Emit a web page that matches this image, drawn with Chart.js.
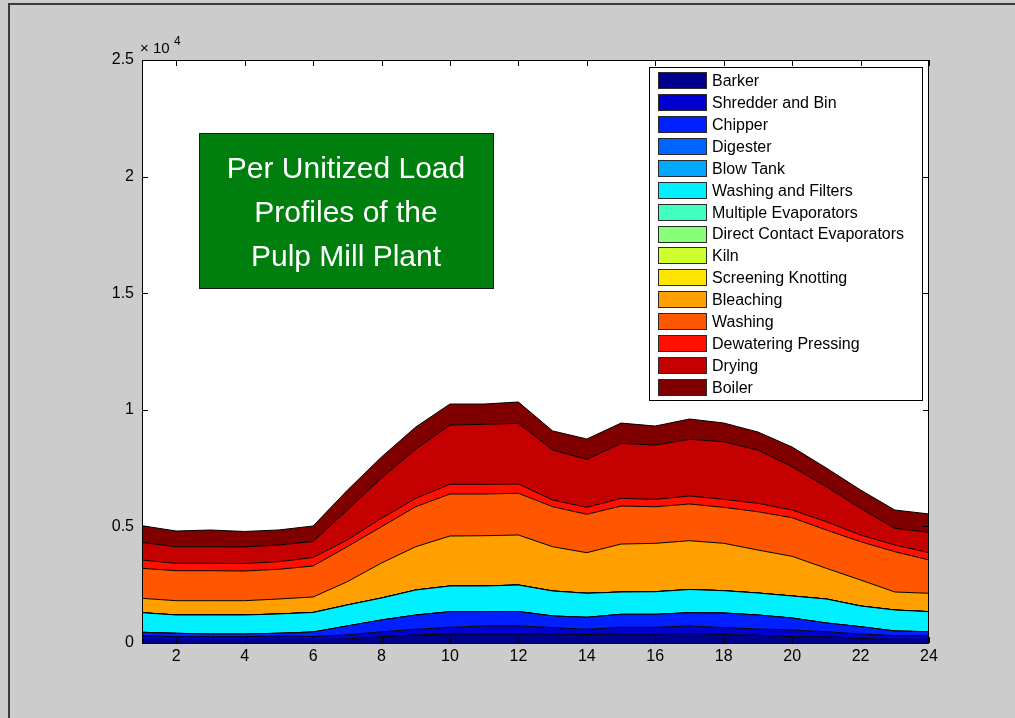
<!DOCTYPE html>
<html>
<head>
<meta charset="utf-8">
<script src="https://cdn.jsdelivr.net/npm/chart.js@4.4.1/dist/chart.umd.min.js"></script>
<style>
  html, body { margin: 0; padding: 0; background: #cccccc; }
  #wrap { width: 1015px; height: 718px; position: relative; }
  canvas { display: block; }
</style>
</head>
<body>
<div id="wrap"><canvas id="chart" width="1015" height="718"></canvas></div>
<script>
// Hour of day (x axis)
const hours = [1, 2, 3, 4, 5, 6, 7, 8, 9, 10, 11, 12, 13, 14, 15, 16, 17, 18, 19, 20, 21, 22, 23, 24];
const xTickLabels = [2, 4, 6, 8, 10, 12, 14, 16, 18, 20, 22, 24];
const yTickValues = [0, 5000, 10000, 15000, 20000, 25000];
const yTickLabels = ['0', '0.5', '1', '1.5', '2', '2.5'];

// Load of each process area per hour (stacked from the bottom up)
const barker       = [150, 150, 150, 150, 159, 150, 172, 270, 343, 386, 386, 386, 386, 364, 386, 386, 416, 364, 330, 270, 270, 193, 159, 159];
const shredderBin  = [163, 120, 120, 120, 142, 129, 172, 214, 244, 287, 343, 343, 279, 223, 287, 287, 313, 300, 270, 287, 214, 193, 154, 154];
const chipper      = [146, 146, 116, 116, 116, 193, 386, 502, 613, 669, 613, 622, 493, 515, 557, 557, 570, 622, 600, 515, 373, 313, 202, 172];
const digester     = [0, 0, 0, 0, 0, 0, 0, 0, 0, 0, 0, 0, 0, 0, 0, 0, 0, 0, 0, 0, 0, 0, 0, 0];
const blowTank     = [0, 0, 0, 0, 0, 0, 0, 0, 0, 0, 0, 0, 0, 0, 0, 0, 0, 0, 0, 0, 0, 0, 0, 0];
const washFilters  = [840, 785, 815, 815, 828, 836, 900, 943, 1072, 1102, 1102, 1136, 1072, 1029, 956, 969, 995, 956, 943, 943, 1029, 888, 900, 858];
const multiEvap    = [0, 0, 0, 0, 0, 0, 0, 0, 0, 0, 0, 0, 0, 0, 0, 0, 0, 0, 0, 0, 0, 0, 0, 0];
const directEvap   = [0, 0, 0, 0, 0, 0, 0, 0, 0, 0, 0, 0, 0, 0, 0, 0, 0, 0, 0, 0, 0, 0, 0, 0];
const kiln         = [0, 0, 0, 0, 0, 0, 0, 0, 0, 0, 0, 0, 0, 0, 0, 0, 0, 0, 0, 0, 0, 0, 0, 0];
const screening    = [0, 0, 0, 0, 0, 0, 0, 0, 0, 0, 0, 0, 0, 0, 0, 0, 0, 0, 0, 0, 0, 0, 0, 0];
const bleaching    = [617, 613, 613, 613, 643, 665, 999, 1501, 1857, 2144, 2157, 2144, 1900, 1741, 2058, 2075, 2093, 2033, 1844, 1702, 1316, 1115, 772, 789];
const washing      = [1286, 1286, 1286, 1274, 1274, 1329, 1501, 1557, 1715, 1801, 1788, 1788, 1715, 1647, 1629, 1569, 1574, 1544, 1642, 1655, 1642, 1642, 1728, 1428];
const dewatering   = [356, 317, 317, 322, 326, 364, 287, 360, 360, 416, 416, 399, 287, 300, 330, 317, 343, 343, 360, 330, 356, 287, 287, 313];
const drying       = [759, 712, 712, 708, 716, 686, 1283, 1729, 2107, 2543, 2573, 2603, 2144, 2058, 2358, 2328, 2431, 2470, 2286, 1857, 1501, 1145, 716, 875];
const boiler       = [712, 673, 716, 665, 643, 665, 850, 900, 950, 900, 870, 913, 820, 870, 870, 815, 870, 802, 772, 845, 802, 785, 785, 785];

const seriesNames = [
  'Barker', 'Shredder and Bin', 'Chipper', 'Digester', 'Blow Tank',
  'Washing and Filters', 'Multiple Evaporators', 'Direct Contact Evaporators', 'Kiln',
  'Screening Knotting', 'Bleaching', 'Washing', 'Dewatering Pressing', 'Drying', 'Boiler'
];
const seriesValues = [
  barker, shredderBin, chipper, digester, blowTank,
  washFilters, multiEvap, directEvap, kiln,
  screening, bleaching, washing, dewatering, drying, boiler
];
const noteLines = ['Per Unitized Load', 'Profiles of the', 'Pulp Mill Plant'];

// jet-style palette, dark blue through dark red
const palette = [
  '#00008f', '#0000d0', '#0020ff', '#0064ff', '#00a8ff',
  '#00f0ff', '#40ffc0', '#88ff78', '#d0ff30', '#ffe400',
  '#ffa000', '#ff5600', '#ff1000', '#c40000', '#800000'
];

const FONT = '"Liberation Sans", Arial, Helvetica, sans-serif';

const datasets = seriesNames.map((name, i) => ({
  label: name,
  data: seriesValues[i],
  backgroundColor: palette[i],
  borderColor: '#000000',
  borderWidth: 1,
  pointRadius: 0,
  pointHoverRadius: 0,
  tension: 0,
  fill: i === 0 ? 'origin' : '-1'
}));

// Figure background, axes box, inward ticks, boxed legend and the text note
const decor = {
  id: 'decor',
  beforeDraw(chart) {
    const { ctx, chartArea: a, width, height } = chart;
    ctx.save();
    ctx.fillStyle = '#cccccc';
    ctx.fillRect(0, 0, width, height);
    ctx.strokeStyle = '#3a3a3a';
    ctx.lineWidth = 2;
    ctx.beginPath();
    ctx.moveTo(9, height);
    ctx.lineTo(9, 4);
    ctx.lineTo(width, 4);
    ctx.stroke();
    ctx.fillStyle = '#ffffff';
    ctx.fillRect(a.left, a.top, a.right - a.left, a.bottom - a.top);
    ctx.restore();
  },
  afterDatasetsDraw(chart) {
    const { ctx, chartArea: a, scales } = chart;
    ctx.save();
    ctx.strokeStyle = '#000000';
    ctx.lineWidth = 1;
    ctx.strokeRect(a.left + 0.5, a.top + 0.5, a.right - a.left - 1, a.bottom - a.top);
    const tl = 6;
    ctx.beginPath();
    xTickLabels.forEach(h => {
      const x = Math.round(scales.x.getPixelForValue(hours.indexOf(h))) + 0.5;
      ctx.moveTo(x, a.bottom); ctx.lineTo(x, a.bottom - tl);
      ctx.moveTo(x, a.top); ctx.lineTo(x, a.top + tl);
    });
    yTickValues.forEach(v => {
      const y = Math.round(scales.y.getPixelForValue(v)) + 0.5;
      ctx.moveTo(a.left, y); ctx.lineTo(a.left + tl, y);
      ctx.moveTo(a.right, y); ctx.lineTo(a.right - tl, y);
    });
    ctx.stroke();
    ctx.restore();
  },
  afterDraw(chart) {
    const { ctx, chartArea: a } = chart;
    ctx.save();

    // exponent label above the y axis
    ctx.fillStyle = '#000000';
    ctx.textBaseline = 'alphabetic';
    ctx.textAlign = 'left';
    ctx.font = '15px ' + FONT;
    ctx.fillText('\u00d7 10', a.left - 2, a.top - 7);
    ctx.font = '12px ' + FONT;
    ctx.fillText('4', a.left + 32, a.top - 15);

    // legend
    const lx = a.right - 280, ly = a.top + 7, lw = 273, lh = 333;
    ctx.fillStyle = '#ffffff';
    ctx.fillRect(lx, ly, lw, lh);
    ctx.strokeStyle = '#000000';
    ctx.lineWidth = 1;
    ctx.strokeRect(lx + 0.5, ly + 0.5, lw, lh);
    const rowH = 21.9;
    ctx.font = '16px ' + FONT;
    ctx.textBaseline = 'middle';
    chart.data.datasets.forEach((ds, i) => {
      const cy = ly + 13.7 + i * rowH;
      const sy = Math.round(cy - 8.5);
      ctx.fillStyle = ds.backgroundColor;
      ctx.fillRect(lx + 9, sy, 49, 17);
      ctx.strokeStyle = '#2a2a2a';
      ctx.strokeRect(lx + 9.5, sy + 0.5, 48, 16);
      ctx.fillStyle = '#000000';
      ctx.fillText(ds.label, lx + 63, cy + 1);
    });

    // green note box
    const bx = 199, by = 133, bw = 294, bh = 155;
    ctx.fillStyle = '#007f0e';
    ctx.fillRect(bx, by, bw, bh);
    ctx.strokeStyle = '#1a1a1a';
    ctx.strokeRect(bx + 0.5, by + 0.5, bw, bh);
    ctx.fillStyle = '#ffffff';
    ctx.font = '30px ' + FONT;
    ctx.textAlign = 'center';
    ctx.textBaseline = 'alphabetic';
    noteLines.forEach((t, i) => ctx.fillText(t, bx + bw / 2, by + 45 + i * 44));
    ctx.restore();
  }
};

new Chart(document.getElementById('chart'), {
  type: 'line',
  data: { labels: hours.map(String), datasets },
  options: {
    responsive: false,
    animation: false,
    devicePixelRatio: 1,
    layout: { padding: { left: 0, top: 60, right: 86, bottom: 0 } },
    plugins: {
      legend: { display: false },
      tooltip: { enabled: false },
      filler: { propagate: false }
    },
    elements: { line: { borderJoinStyle: 'miter' } },
    scales: {
      x: {
        type: 'category',
        offset: false,
        grid: { display: false, drawTicks: false },
        border: { display: false },
        ticks: {
          autoSkip: false,
          maxRotation: 0,
          padding: 4,
          color: '#000000',
          font: { family: FONT, size: 16 },
          callback(value, index) {
            const h = hours[index];
            return xTickLabels.includes(h) ? String(h) : null;
          }
        },
        afterFit(scale) { scale.height = 75; }
      },
      y: {
        stacked: true,
        min: 0,
        max: 25000,
        grid: { display: false, drawTicks: false },
        border: { display: false },
        ticks: {
          stepSize: 5000,
          padding: 8,
          color: '#000000',
          font: { family: FONT, size: 16 },
          callback(value) {
            const k = yTickValues.indexOf(value);
            return k >= 0 ? yTickLabels[k] : '';
          }
        },
        afterFit(scale) { scale.width = 142; }
      }
    }
  },
  plugins: [decor]
});
</script>
</body>
</html>
